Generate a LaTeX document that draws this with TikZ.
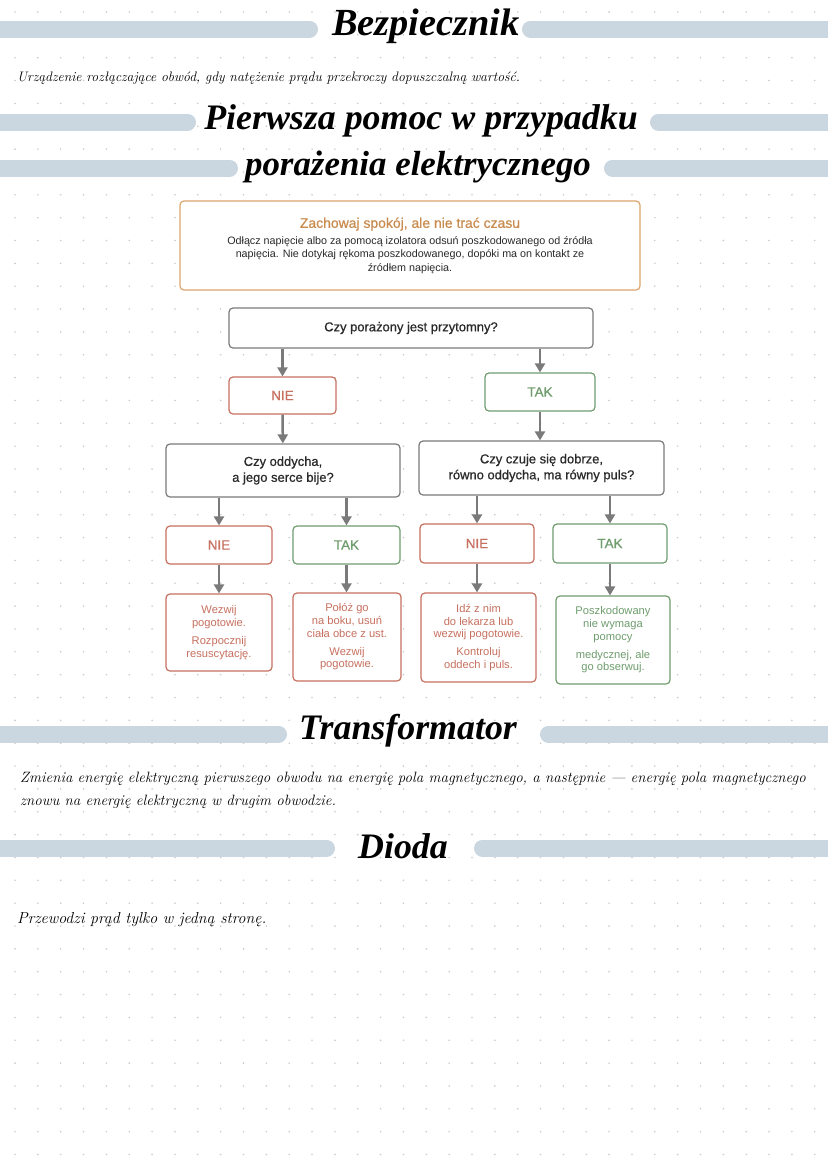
\documentclass[tikz,border=0pt]{standalone}
\usepackage{fontspec}
\setsansfont{Liberation Sans}
\newfontfamily\headfont{Liberation Serif}
\newfontfamily\medfont{Liberation Sans}[FakeBold=0.7]
\usetikzlibrary{arrows.meta}
\definecolor{barblue}{HTML}{CAD7E1}
\definecolor{dotgray}{HTML}{CCCCCC}
\definecolor{boxgray}{HTML}{7A7A7A}
\definecolor{nieRed}{HTML}{C7705F}
\definecolor{takGreen}{HTML}{6F9D6E}
\definecolor{calmOrange}{HTML}{DDA46C}
\definecolor{calmText}{HTML}{C98B4E}
\definecolor{inkText}{HTML}{2A2A2A}
\tikzset{
  bar/.style={barblue, line width=17bp, line cap=round},
  heading/.style={font=\headfont\bfseries\itshape\fontsize{36}{36}\selectfont, inner sep=0pt},
  hand/.style={inner sep=0pt, align=left},
  box/.style={draw=boxgray, fill=white, line width=1.2bp, rounded corners=4bp,
    font=\sffamily, align=center, inner sep=2bp},
  question/.style={box, text=inkText, font=\medfont\fontsize{13}{16}\selectfont},
  nie/.style={box, draw=nieRed, text=nieRed, font=\medfont\fontsize{13.5}{15}\selectfont},
  tak/.style={box, draw=takGreen, text=takGreen, font=\medfont\fontsize{13.5}{15}\selectfont},
  result/.style={box, font=\sffamily\fontsize{11.2}{12.8}\selectfont},
  arr/.style={boxgray, line width=2.5bp, -{Triangle[length=9bp,width=10bp]}}
}
\begin{document}
\begin{tikzpicture}[x=1bp, y=-1bp]
  \useasboundingbox (0,0) rectangle (828,1169);
  \fill[white] (0,0) rectangle (828,1169);
  % dot grid
  \foreach \i in {0,...,35}
    \foreach \j in {0,...,50}
      \fill[dotgray] (15+22.85*\i, 12+22.85*\j) circle (0.9bp);

  % Bezpiecznik
  \draw[bar] (-10,29) -- (309.5,29);
  \draw[bar] (530.5,29) -- (840,29);
  \node[heading, font=\headfont\bfseries\itshape\fontsize{38.5}{38}\selectfont] (bez) at (426,26) {Bezpiecznik};
  \node[hand, anchor=west, font=\itshape\fontsize{13.8}{16}\selectfont] (bezTxt) at (17,78)
    {Urządzenie rozłączające obwód, gdy natężenie prądu przekroczy dopuszczalną wartość.};

  % Pierwsza pomoc
  \draw[bar] (-10,122) -- (187.5,122);
  \draw[bar] (658.5,122) -- (840,122);
  \node[heading] (pomoc) at (421,121) {Pierwsza pomoc w przypadku};
  \draw[bar] (-10,168) -- (229.5,168);
  \draw[bar] (612.5,168) -- (840,168);
  \node[heading, font=\headfont\bfseries\itshape\fontsize{35}{35}\selectfont] (porazenie) at (418,167) {porażenia elektrycznego};

  \node[box, draw=calmOrange, minimum width=460bp, minimum height=89bp,
        font=\sffamily\fontsize{10.8}{13.5}\selectfont, text=inkText] (calm) at (410,245.5)
    {{\color{calmText}\medfont\fontsize{14}{16}\selectfont Zachowaj spokój, ale nie trać czasu}\\[3bp]
     Odłącz napięcie albo za pomocą izolatora odsuń poszkodowanego od źródła\\
     napięcia. Nie dotykaj rękoma poszkodowanego, dopóki ma on kontakt ze\\
     źródłem napięcia.};

  % flowchart
  \node[question, minimum width=364bp, minimum height=40bp] (q1) at (411,328) {Czy porażony jest przytomny?};
  \node[nie, minimum width=107bp, minimum height=37bp] (nie1) at (282.5,395.5) {NIE};
  \node[tak, minimum width=110bp, minimum height=38bp] (tak1) at (540,392) {TAK};
  \node[question, minimum width=234bp, minimum height=53bp] (q2) at (283,470.5) {Czy oddycha,\\a jego serce bije?};
  \node[question, minimum width=245bp, minimum height=54bp] (q3) at (541.5,468) {Czy czuje się dobrze,\\równo oddycha, ma równy puls?};
  \node[nie, minimum width=106bp, minimum height=38bp] (nie2) at (219,545) {NIE};
  \node[tak, minimum width=107bp, minimum height=38bp] (tak2) at (346.5,545) {TAK};
  \node[nie, minimum width=114bp, minimum height=39bp] (nie3) at (477,543.5) {NIE};
  \node[tak, minimum width=114bp, minimum height=39bp] (tak3) at (610,543.5) {TAK};
  \node[result, draw=nieRed, text=nieRed, minimum width=106bp, minimum height=77bp] (res1) at (219,632.5)
    {Wezwij\\pogotowie.\\[6bp]Rozpocznij\\resuscytację.};
  \node[result, draw=nieRed, text=nieRed, minimum width=108bp, minimum height=88bp] (res2) at (347,637)
    {Połóż go\\na boku, usuń\\ciała obce z ust.\\[5bp]Wezwij\\pogotowie.};
  \node[result, draw=nieRed, text=nieRed, minimum width=115bp, minimum height=89bp] (res3) at (478.5,637.5)
    {Idź z nim\\do lekarza lub\\wezwij pogotowie.\\[5bp]Kontroluj\\oddech i puls.};
  \node[result, draw=takGreen, text=takGreen, minimum width=114bp, minimum height=88bp] (res4) at (613,640)
    {Poszkodowany\\nie wymaga\\pomocy\\[5bp]medycznej, ale\\go obserwuj.};

  \draw[arr] (q1.south -| nie1) -- (nie1.north);
  \draw[arr] (q1.south -| tak1) -- (tak1.north);
  \draw[arr] (nie1) -- (q2);
  \draw[arr] (tak1.south) -- (tak1.south |- q3.north);
  \draw[arr] (q2.south -| nie2) -- (nie2.north);
  \draw[arr] (q2.south -| tak2) -- (tak2.north);
  \draw[arr] (q3.south -| nie3) -- (nie3.north);
  \draw[arr] (q3.south -| tak3) -- (tak3.north);
  \draw[arr] (nie2) -- (res1);
  \draw[arr] (tak2) -- (tak2 |- res2.north);
  \draw[arr] (nie3) -- (nie3 |- res3.north);
  \draw[arr] (tak3) -- (tak3 |- res4.north);

  % Transformator
  \draw[bar] (-10,734) -- (278.5,734);
  \draw[bar] (548.5,734) -- (840,734);
  \node[heading] (trafo) at (408,731) {Transformator};
  \node[hand, anchor=north west, font=\itshape\fontsize{15}{23}\selectfont] (trafoTxt) at (20,772)
    {Zmienia energię elektryczną pierwszego obwodu na energię pola magnetycznego, a następnie — energię pola magnetycznego\\
     znowu na energię elektryczną w drugim obwodzie.};

  % Dioda
  \draw[bar] (-10,848) -- (326.5,848);
  \draw[bar] (482.5,848) -- (840,848);
  \node[heading] (dioda) at (403,846) {Dioda};
  \node[hand, anchor=west, font=\itshape\fontsize{16}{18}\selectfont] (diodaTxt) at (17,920) {Przewodzi prąd tylko w jedną stronę.};
\end{tikzpicture}
\end{document}
